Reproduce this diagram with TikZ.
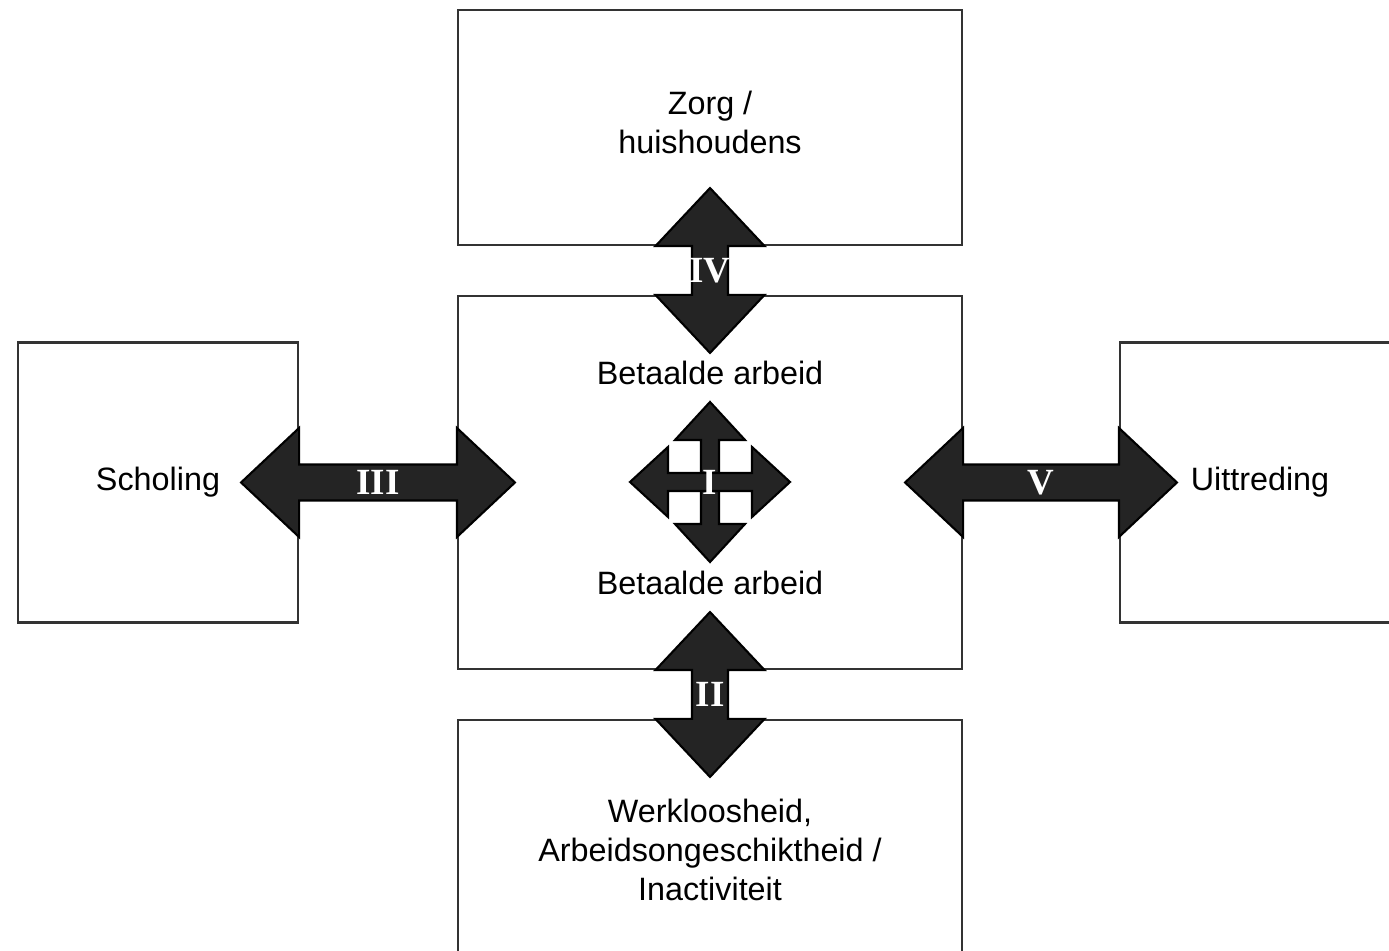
\documentclass[tikz,border=0pt]{standalone}
\usepackage{fontspec}
\setmainfont{Liberation Sans}
\newfontfamily\romeinsfont{Liberation Serif}
\usetikzlibrary{calc}

\tikzset{
  vak/.style={draw=black!80, line width=0.6pt, align=center, inner sep=0pt,
    font=\fontsize{9.2pt}{11.2pt}\selectfont},
  tekst/.style={inner sep=0pt, align=center, font=\fontsize{9.2pt}{11.2pt}\selectfont},
  pijl/.style={fill=black!86, draw=black, line width=0.6pt, line join=miter},
  romeins/.style={text=white, inner sep=0pt,
    font=\romeinsfont\bfseries\fontsize{10.5pt}{10.5pt}\selectfont}
}

% #1 en #2: punten, #3: halve schachtbreedte, #4: halve kopbreedte, #5: koplengte
\newcommand{\dikkepijl}[5]{%
  \coordinate (h1) at ($(#1)!#5cm!(#2)$);
  \coordinate (h2) at ($(#2)!#5cm!(#1)$);
  \filldraw[pijl] (#1) -- ($(h1)!#4cm!90:(#1)$) -- ($(h1)!#3cm!90:(#1)$)
    -- ($(h2)!#3cm!-90:(#2)$) -- ($(h2)!#4cm!-90:(#2)$) -- (#2)
    -- ($(h2)!#4cm!90:(#2)$) -- ($(h2)!#3cm!90:(#2)$)
    -- ($(h1)!#3cm!-90:(#1)$) -- ($(h1)!#4cm!-90:(#1)$) -- cycle;}

\begin{document}
\begin{tikzpicture}

\clip (0,0) rectangle (13.89,9.5);

\node[vak, minimum width=5.04cm, minimum height=2.35cm] (zorg) at (7.10,8.225) {};
\node[vak, minimum width=5.04cm, minimum height=3.73cm] (arbeid) at (7.10,4.675) {};
\node[vak, minimum width=5.04cm, minimum height=2.60cm] (werk) at (7.10,1.00) {Werkloosheid,\\Arbeidsongeschiktheid /\\Inactiviteit};
\node[vak, minimum width=2.80cm, minimum height=2.80cm] (scholing) at (1.58,4.675) {Scholing};
\node[vak, minimum width=2.80cm, minimum height=2.80cm] (uittreding) at (12.60,4.675) {Uittreding};

\node[tekst] (zorgtekst) at ($(zorg.center)+(0,0.05)$) {Zorg /\\huishoudens};
\node[tekst] (betaald1) at ($(arbeid.center)+(0,1.095)$) {Betaalde arbeid};
\node[tekst] (betaald2) at ($(arbeid.center)+(0,-1.005)$) {Betaalde arbeid};

\coordinate (ivA) at ($(zorg.south)+(0,0.58)$);
\coordinate (ivB) at ($(arbeid.north)+(0,-0.58)$);
\coordinate (iiA) at ($(arbeid.south)+(0,0.58)$);
\coordinate (iiB) at ($(werk.north)+(0,-0.58)$);
\coordinate (iiiA) at ($(scholing.east)+(-0.58,0)$);
\coordinate (iiiB) at ($(arbeid.west)+(0.58,0)$);
\coordinate (vA) at ($(arbeid.east)+(-0.58,0)$);
\coordinate (vB) at ($(uittreding.west)+(0.58,0)$);

\coordinate (kern) at (7.10,4.68);
\coordinate (kernN) at ($(kern)+(0,0.8)$);
\coordinate (kernZ) at ($(kern)+(0,-0.8)$);
\coordinate (kernW) at ($(kern)+(-0.8,0)$);
\coordinate (kernO) at ($(kern)+(0.8,0)$);

\dikkepijl{ivA}{ivB}{0.18}{0.545}{0.58}
\dikkepijl{iiA}{iiB}{0.18}{0.545}{0.58}
\dikkepijl{iiiA}{iiiB}{0.18}{0.545}{0.58}
\dikkepijl{vA}{vB}{0.18}{0.545}{0.58}
\dikkepijl{kernN}{kernZ}{0.09}{0.35}{0.38}
\dikkepijl{kernW}{kernO}{0.09}{0.35}{0.38}

\node[romeins] (labelIV) at ($(ivA)!0.5!(ivB)$) {IV};
\node[romeins] (labelII) at ($(iiA)!0.5!(iiB)$) {II};
\node[romeins] (labelIII) at ($(iiiA)!0.5!(iiiB)$) {III};
\node[romeins] (labelV) at ($(vA)!0.5!(vB)$) {V};
\node[romeins] (labelI) at (kern) {I};

\end{tikzpicture}
\end{document}
